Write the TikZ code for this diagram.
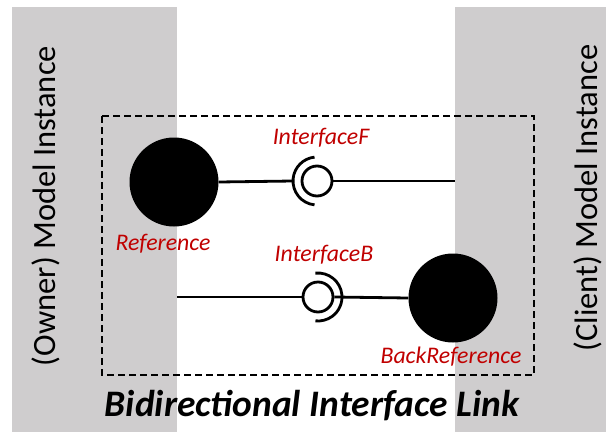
\documentclass[tikz,border=0pt]{standalone}
\usepackage{fontspec}
\setmainfont{Carlito}
\definecolor{panelgray}{RGB}{207,205,206}
\definecolor{labelred}{RGB}{192,0,0}
\begin{document}
\begin{tikzpicture}[x=1pt,y=-1pt,
  panel/.style={fill=panelgray,draw=none},
  refball/.style={circle,fill=black,draw=none,minimum size=89pt,inner sep=0pt},
  lolli/.style={circle,draw=black,fill=white,line width=2.8pt,minimum size=30pt,inner sep=0pt},
  wire/.style={line width=2.8pt},
  socket/.style={line width=2.8pt},
  redlabel/.style={text=labelred,font=\fontsize{23.8}{26}\selectfont\itshape,anchor=base,inner sep=0pt},
  sidelabel/.style={font=\fontsize{32.5}{35}\selectfont,rotate=90,inner sep=0pt},
  linkbox/.style={draw=black,line width=1.5pt,dash pattern=on 7pt off 4pt}
]
\useasboundingbox (0,0) rectangle (606,432);
% model instance panels
\fill[panel] (12,7) rectangle (177,432);
\fill[panel] (455,7) rectangle (606,432);
\node[sidelabel] (owner) at (46,206) {(Owner) Model Instance};
\node[sidelabel] (client) at (588,198) {(Client) Model Instance};

% link boundary
\draw[linkbox] (102,116) rectangle (534,375);

% forward interface
\node[refball] (ref) at (174,182) {};
\node[lolli] (ballF) at (317,181) {};
\draw[socket] (ballF.center) ++(96:24) arc[start angle=96,end angle=264,radius=24];
\coordinate (sockF) at ([xshift=-24pt]ballF.center);
\coordinate (endF) at (455,181);
\draw[wire] (ref.east) -- (sockF);
\draw[wire] (ballF.east) -- (endF);

% backward interface
\node[refball] (back) at (453,298) {};
\node[lolli] (ballB) at (318,297) {};
\draw[socket] (ballB.center) ++(-96:24) arc[start angle=-96,end angle=96,radius=24];
\coordinate (startB) at (177,297);
\draw[wire] (startB) -- (ballB.west);
\draw[wire] (ballB.east) -- (back.west);

% labels
\node[redlabel] (lblF) at (321,144) {InterfaceF};
\node[redlabel] (lblRef) at (163,250) {Reference};
\node[redlabel] (lblB) at (324,261) {InterfaceB};
\node[redlabel] (lblBack) at (451,363) {BackReference};
\node[font=\fontsize{37.4}{40}\selectfont\bfseries\itshape,anchor=base,inner sep=0pt] (title) at (312,416) {Bidirectional Interface Link};
\end{tikzpicture}
\end{document}
